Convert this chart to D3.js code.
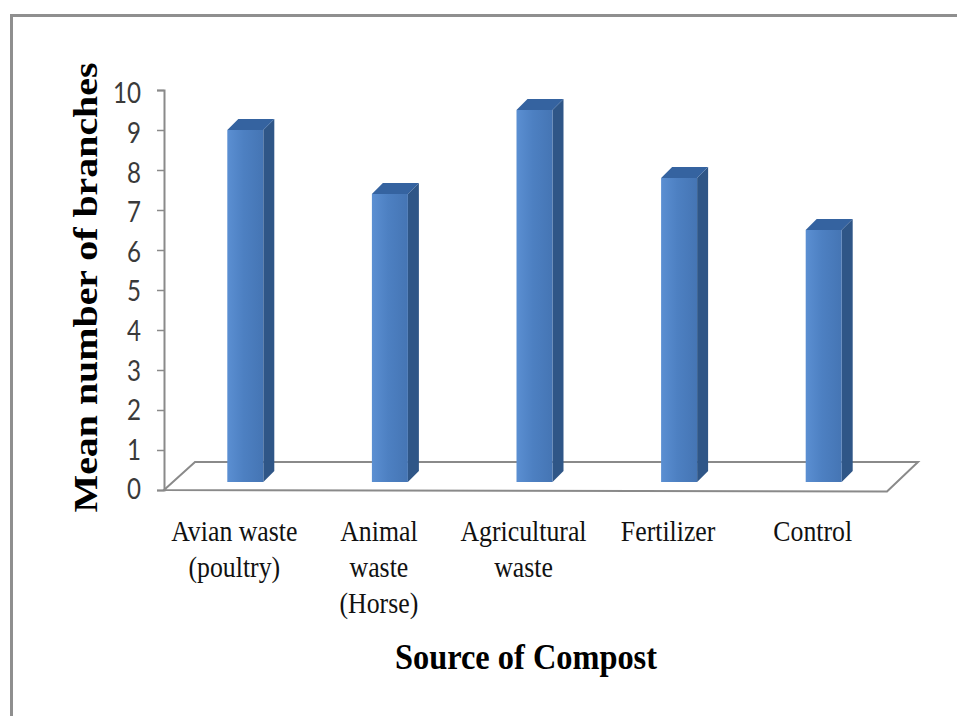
<!DOCTYPE html>
<html>
<head>
<meta charset="utf-8">
<script src="https://cdn.jsdelivr.net/npm/d3@7"></script>
<style>
  body { margin: 0; background: #fff; }
</style>
</head>
<body>
<div id="chart"></div>
<script>
// data
const categories = ["Avian waste (poultry)", "Animal waste (Horse)", "Agricultural waste", "Fertilizer", "Control"];
const labelLines = [["Avian waste", "(poultry)"], ["Animal", "waste", "(Horse)"], ["Agricultural", "waste"], ["Fertilizer"], ["Control"]];
const values = [8.8, 7.2, 9.3, 7.6, 6.3];
const yTicks = [0, 1, 2, 3, 4, 5, 6, 7, 8, 9, 10];

const width = 957, height = 716;

// 3d look: floor depth and bar depth (pixels)
const floorDx = 31, floorDy = -28;
const barOffX = 9, barOffY = -8;
const barDepth = 11;
const barW = 36;

const svg = d3.select("#chart").append("svg")
  .attr("width", width)
  .attr("height", height);

// outer frame (runs off the right and bottom)
svg.append("rect")
  .attr("x", 11.5).attr("y", 15.5)
  .attr("width", 1000).attr("height", 800)
  .attr("fill", "none")
  .attr("stroke", "#8f8f8f")
  .attr("stroke-width", 3);

const x = d3.scaleBand().domain(categories).range([164, 887]);
const y = d3.scaleLinear().domain([0, 10]).range([490, 90]);

// gradient for the front faces
const defs = svg.append("defs");
const grad = defs.append("linearGradient").attr("id", "front");
grad.append("stop").attr("offset", "0%").attr("stop-color", "#5b8fd2");
grad.append("stop").attr("offset", "45%").attr("stop-color", "#4d80c2");
grad.append("stop").attr("offset", "100%").attr("stop-color", "#4575b4");

// floor
const x0 = x.range()[0], x1 = x.range()[1], y0 = y(0);
svg.append("path")
  .attr("d", `M${x0},${y0} L${x0 + floorDx},${y0 + floorDy} L${x1 + floorDx},${y0 + floorDy} L${x1},${y0 + 1.5} Z`)
  .attr("fill", "#fff")
  .attr("stroke", "#8a8a8a")
  .attr("stroke-width", 2);

// y axis
const yAxis = d3.axisLeft(y).tickValues(yTicks).tickSize(7).tickPadding(16);
const gy = svg.append("g")
  .attr("transform", `translate(${x0},0)`)
  .call(yAxis);
gy.select(".domain").attr("stroke", "#8a8a8a").attr("stroke-width", 2);
gy.selectAll(".tick line").attr("stroke", "#8a8a8a").attr("stroke-width", 1.5);
gy.selectAll(".tick text")
  .attr("font-family", "Lato, 'Open Sans', sans-serif")
  .attr("font-size", 28)
  .attr("fill", "#3a3a3a")
  .attr("textLength", (d) => String(d).length * 14)
  .attr("lengthAdjust", "spacingAndGlyphs")
  .attr("dy", (d) => (0.32 * 28 + d * 0.4) + "px");

// bars
const bars = svg.append("g").selectAll("g")
  .data(values)
  .join("g");

function frontLeft(i) { return x(categories[i]) + x.bandwidth() / 2 + barOffX - barW / 2; }
const base = y(0) + barOffY;

bars.append("path") // side
  .attr("d", (d, i) => {
    const xr = frontLeft(i) + barW, top = y(d) + barOffY;
    return `M${xr},${top} L${xr + barDepth},${top - barDepth} L${xr + barDepth},${base - barDepth} L${xr},${base} Z`;
  })
  .attr("fill", "#2f5687");

bars.append("path") // top
  .attr("d", (d, i) => {
    const xl = frontLeft(i), top = y(d) + barOffY;
    return `M${xl},${top} L${xl + barDepth},${top - barDepth} L${xl + barW + barDepth},${top - barDepth} L${xl + barW},${top} Z`;
  })
  .attr("fill", "#3563a0");

bars.append("rect") // front
  .attr("x", (d, i) => frontLeft(i))
  .attr("y", (d) => y(d) + barOffY)
  .attr("width", barW)
  .attr("height", (d) => base - (y(d) + barOffY))
  .attr("fill", "url(#front)");

// category labels (narrow, tall serif as in the picture)
const lab = svg.append("g").selectAll("text")
  .data(labelLines)
  .join("text")
  .attr("transform", (d, i) => `translate(${x(categories[i]) + x.bandwidth() / 2 - 2},541) scale(0.86,1)`)
  .attr("text-anchor", "middle")
  .attr("font-family", "'Liberation Serif', 'Times New Roman', serif")
  .attr("font-size", 30)
  .attr("fill", "#111");
lab.selectAll("tspan")
  .data((d) => d)
  .join("tspan")
  .attr("x", 0)
  .attr("dy", (d, i) => (i === 0 ? 0 : 36))
  .text((d) => d);

// axis titles
svg.append("text")
  .attr("transform", "translate(97,287.5) rotate(-90)")
  .attr("text-anchor", "middle")
  .attr("font-family", "'Liberation Serif', 'Times New Roman', serif")
  .attr("font-weight", "bold")
  .attr("font-size", 34)
  .attr("textLength", 450)
  .attr("lengthAdjust", "spacingAndGlyphs")
  .text("Mean number of branches");

svg.append("text")
  .attr("x", 526)
  .attr("y", 669)
  .attr("text-anchor", "middle")
  .attr("font-family", "'Liberation Serif', 'Times New Roman', serif")
  .attr("font-weight", "bold")
  .attr("font-size", 35)
  .attr("textLength", 262)
  .attr("lengthAdjust", "spacingAndGlyphs")
  .text("Source of Compost");
</script>
</body>
</html>
